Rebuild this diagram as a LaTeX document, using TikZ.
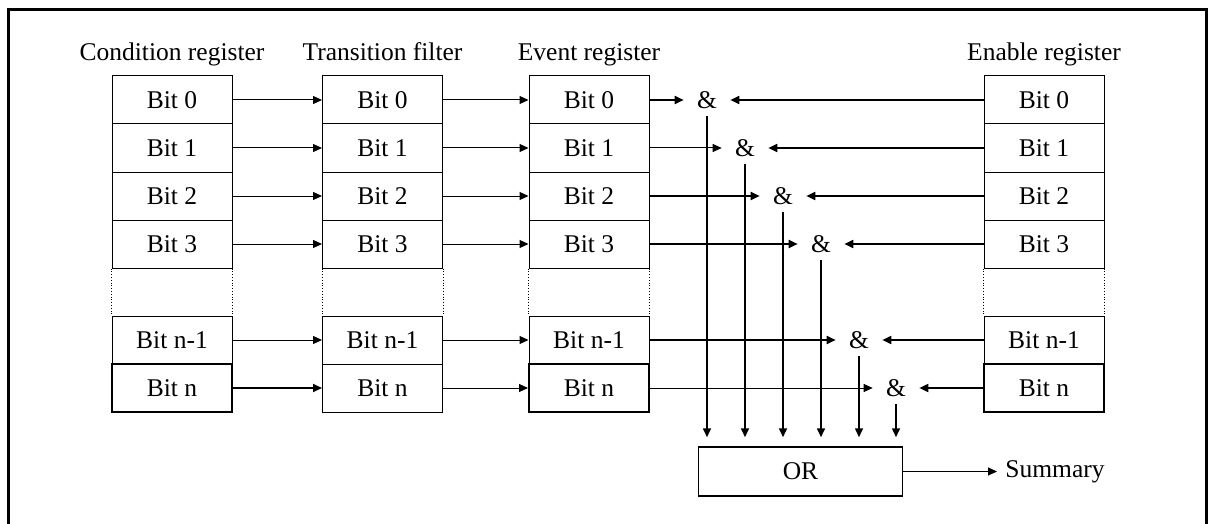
\documentclass[tikz,border=0pt]{standalone}
\usepackage{fontspec}
\setmainfont{Liberation Serif}
\usetikzlibrary{arrows.meta, positioning, calc}

\begin{document}
\begin{tikzpicture}[
    x=0.5pt, y=-0.5pt, % 1 unit = 1 pixel of the reference
    >={Triangle[length=4.5pt, width=4pt]}, % filled triangular tips
    font=\fontsize{12.75}{15}\selectfont,
    bitbox/.style={draw, minimum width=60pt, minimum height=24pt, inner sep=0pt}, % one register bit
    head/.style={anchor=base},                     % column titles
    link/.style={->, line width=0.5pt},            % signal arrow
    gap/.style={densely dotted, line width=0.4pt}, % omitted bits
    andgate/.style={inner xsep=6.5pt, inner ysep=3.5pt}, % & symbol
    frame/.style={line width=1.5pt}                % outer border
]
    \useasboundingbox (0,0) rectangle (1210,524);

    % 1. outer border (open at the bottom)
    \draw[frame] (8.5,524) |- (1206,10) -- (1206,524);

    % 2. column titles
    \node[head] (crhead) at (172,61)   {Condition register};
    \node[head] (tfhead) at (382.5,61) {Transition filter};
    \node[head] (evhead) at (589,61)   {Event register};
    \node[head] (enhead) at (1044,61)  {Enable register};

    % 3. the four registers: rows 0..3, n-1, n
    \foreach \c/\cx/\bw in {cr/172/1, tf/382.5/0.5, ev/589/1, en/1044/1} {
        \foreach \r/\b/\y in {0/0/100, 1/1/148, 2/2/196, 3/3/244, 4/n-1/340, 5/n/388} {
            \pgfmathsetmacro\lw{ifthenelse(\r==5,\bw,0.5)}
            \node[bitbox, line width=\lw pt] (\c\r) at (\cx,\y) {Bit \b};
        }
        \draw[gap] (\c3.south west) -- (\c4.north west); % dotted sides
        \draw[gap] (\c3.south east) -- (\c4.north east);
    }

    % 4. OR gate and summary output
    \node[draw, line width=0.75pt, minimum width=102pt, minimum height=24.5pt, inner sep=0pt] (orbox) at (800.5,471.5) {OR};
    \node[anchor=west, inner sep=4pt] (summary) at (997,471.5) {Summary};
    \draw[link] (orbox.east) -- (summary.west);

    % 5. register to register arrows
    \foreach \r/\wa in {0/0.5, 1/0.5, 2/0.5, 3/0.5, 4/0.5, 5/1} {
        \draw[link, line width=\wa pt] (cr\r.east) -- (tf\r.west);
        \draw[link] (tf\r.east) -- (ev\r.west);
    }

    % 6. & gates: event AND enable, then down into OR
    \foreach \r/\ax/\y/\we in {0/707/100/0.9, 1/745/148/0.5, 2/783/196/0.9, 3/821/244/0.9, 4/859/340/0.9, 5/896/388/0.5} {
        \node[andgate] (and\r) at (\ax,\y) {\&};
        \draw[link, line width=\we pt] (ev\r.east) -- (and\r.west);
        \draw[link, line width=0.9pt] (en\r.west) -- (and\r.east);
        \draw[link, line width=0.8pt, shorten >=4.5pt] (and\r.south) -- (and\r.south |- orbox.north);
    }
\end{tikzpicture}
\end{document}
